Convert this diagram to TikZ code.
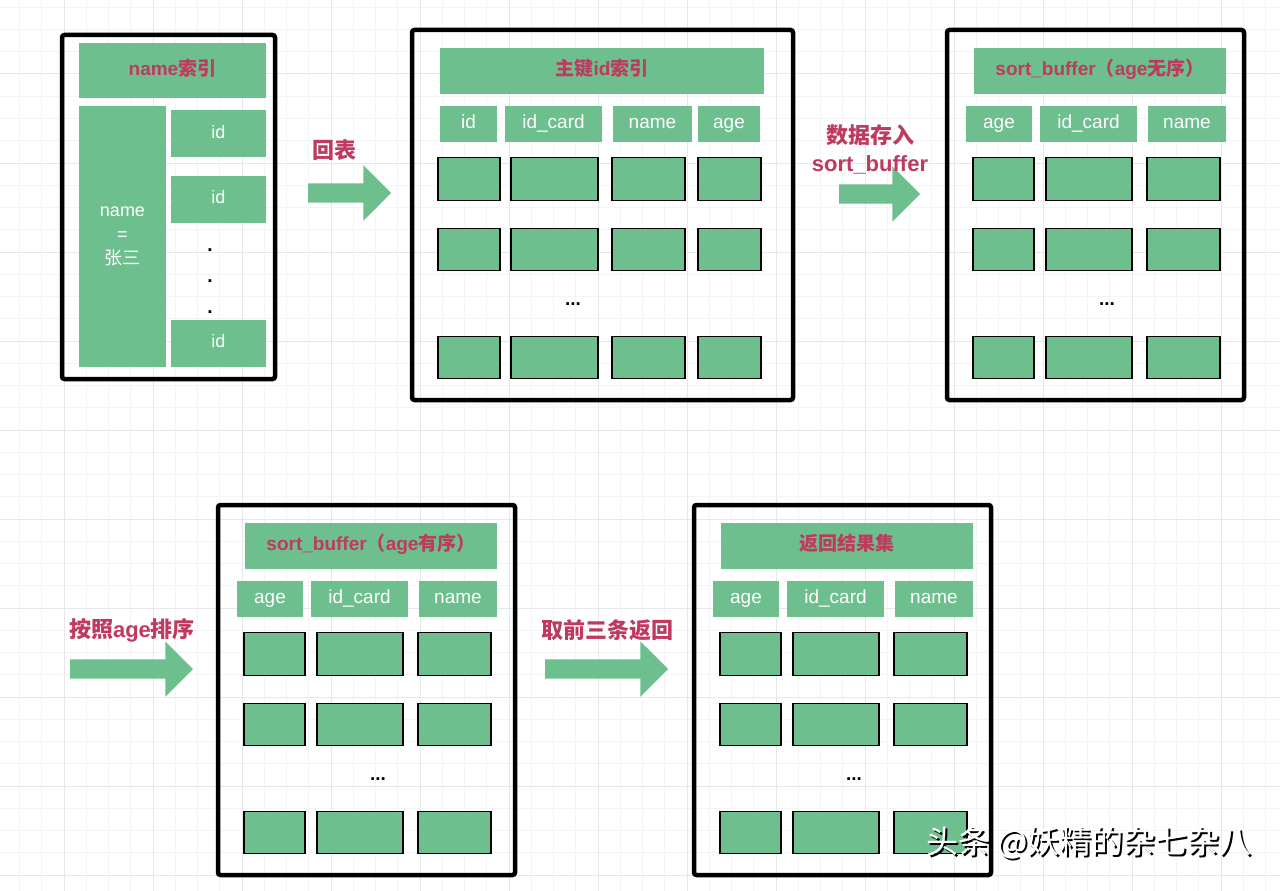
\documentclass[tikz,border=0pt]{standalone}
\usepackage{fontspec}
\setmainfont{Liberation Sans}
\newfontfamily\cjk{Noto Sans CJK SC}
\usetikzlibrary{shapes.arrows}
\definecolor{rowgreen}{RGB}{109,191,142}
\definecolor{labelred}{RGB}{192,57,95}
\definecolor{gridminor}{RGB}{244,244,244}
\definecolor{gridmajor}{RGB}{231,231,231}

\tikzset{
  box/.style 2 args={minimum width=#1pt, minimum height=#2pt, inner sep=0pt, outer sep=0pt},
  frame/.style={draw=black, line width=4.5pt, rounded corners=2.5pt},
  tabtitle/.style={fill=rowgreen, text=labelred, text height=13.5pt, text depth=4pt,
    font=\bfseries\fontsize{19}{21}\selectfont},
  colhead/.style={fill=rowgreen, text=white, text height=13.5pt, text depth=4pt,
    font=\fontsize{19}{21}\selectfont},
  datacell/.style={fill=rowgreen, draw=black, line width=1.3pt},
  dotmark/.style={inner sep=0pt, font=\bfseries\fontsize{19}{21}\selectfont},
  steplabel/.style={text=labelred, align=center, font=\bfseries\fontsize{22}{28}\selectfont},
  fatarrow/.style={single arrow, fill=rowgreen, anchor=tail, inner xsep=0pt, inner ysep=9.5pt,
    single arrow head extend=18pt, single arrow tip angle=90, outer sep=0pt},
}

\begin{document}
\begin{tikzpicture}[x=1pt, y=-1pt]
  \useasboundingbox (0,0) rectangle (1280,891);
  \fill[white] (0,0) rectangle (1280,891);
  % background grid
  \foreach \i in {0,...,57}
    \draw[gridminor, line width=1pt] ({19.5+22.25*\i},0) -- ++(0,891);
  \foreach \j in {0,...,39}
    \draw[gridminor, line width=1pt] (0,{7.25+22.25*\j}) -- ++(1280,0);
  \foreach \k in {0,...,13}
    \draw[gridmajor, line width=1pt] ({64+89*\k},0) -- ++(0,891);
  \foreach \k in {0,...,9}
    \draw[gridmajor, line width=1pt] (0,{74+89*\k}) -- ++(1280,0);

  % name index
  \node[frame, box={213}{344}] (nx-frame) at (168.5,207) {};
  \node[tabtitle, box={187}{55}] (nx-title) at (172.5,70.5) {name{\cjk 索引}};
  \node[colhead, box={87}{261}, align=center, text height=, text depth=,
        font=\fontsize{18}{24}\selectfont] (nx-key) at (122.5,236.5) {name\\=\\{\cjk 张三}};
  \foreach \cy [count=\r] in {133.5, 199, 343}
    \node[colhead, box={95}{47}, font=\fontsize{18}{20}\selectfont] (nx-id\r) at (218.5,\cy) {id};
  \foreach \cy [count=\r] in {250, 281, 312}
    \node[dotmark] (nx-dot\r) at (210,\cy) {.};

  % primary key index
  \begin{scope}[shift={(412,30)}]
    \node[frame, box={381}{370}] (pk-frame) at (190.5,185) {};
    \node[tabtitle, box={324}{46}] (pk-title) at (190,41) {{\cjk 主键}id{\cjk 索引}};
    \foreach \lbl/\cx/\w [count=\c] in {id/56.5/57, id\_card/141.5/97, name/240.5/79, age/317/62}
      \node[colhead, box={\w}{36}] (pk-h\c) at (\cx,94) {\lbl};
    \foreach \cx/\w [count=\c] in {57/62, 142.5/87, 236.5/73, 317.5/63}
      \foreach \cy [count=\r] in {149, 219.5, 327.5}
        \node[datacell, box={\w}{42.5}] (pk-\r-\c) at (\cx,\cy) {};
    \node[dotmark] (pk-dots) at (161,274) {...};
  \end{scope}

  % sort buffer tables
  \foreach \tab/\dx/\dy/\ttl in {
      unsorted/947/30/{sort\_buffer{\cjk （}age{\cjk 无序）}},
      sorted/218/505/{sort\_buffer{\cjk （}age{\cjk 有序）}},
      result/694/505/{{\cjk 返回结果集}}} {
    \begin{scope}[shift={(\dx,\dy)}]
      \node[frame, box={297}{370}] (\tab-frame) at (148.5,185) {};
      \node[tabtitle, box={252}{46}] (\tab-title) at (153,41) {\ttl};
      \foreach \lbl/\cx/\w [count=\c] in {age/52/66, id\_card/141.5/97, name/240/78}
        \node[colhead, box={\w}{36}] (\tab-h\c) at (\cx,94) {\lbl};
      \foreach \cx/\w [count=\c] in {56.5/61, 142/86, 236.5/73}
        \foreach \cy [count=\r] in {149, 219.5, 327.5}
          \node[datacell, box={\w}{42.5}] (\tab-\r-\c) at (\cx,\cy) {};
      \node[dotmark] (\tab-dots) at (160,274) {...};
    \end{scope}
  }

  % steps
  \node[fatarrow, minimum height=83pt] (arr1) at (308,193) {};
  \node[steplabel] (lab1) at (334,150) {\cjk 回表};
  \node[fatarrow, minimum height=81pt] (arr2) at (839,194) {};
  \node[steplabel] (lab2) at (870,149) {{\cjk 数据存入}\\sort\_buffer};
  \node[fatarrow, minimum height=123pt] (arr3) at (70,669) {};
  \node[steplabel] (lab3) at (132,630) {{\cjk 按照}age{\cjk 排序}};
  \node[fatarrow, minimum height=123pt] (arr4) at (545,669) {};
  \node[steplabel] (lab4) at (607,630) {\cjk 取前三条返回};

  % watermark
  \node[text=black, font=\cjk\fontsize{32}{34}\selectfont] (mark-shadow) at (1091,845) {头条 @妖精的杂七杂八};
  \node[text=white, font=\cjk\fontsize{32}{34}\selectfont] (mark) at (1089,843) {头条 @妖精的杂七杂八};
\end{tikzpicture}
\end{document}
